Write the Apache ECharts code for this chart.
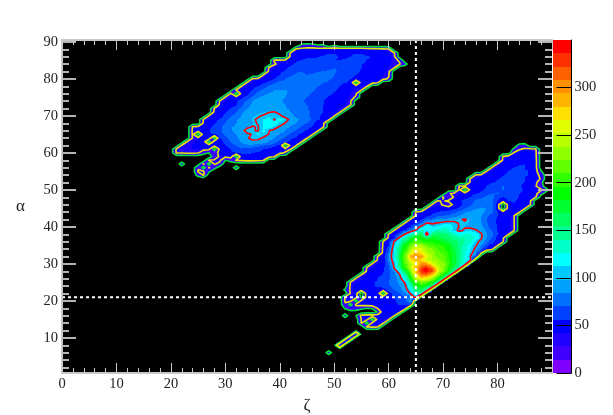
<!DOCTYPE html>
<html>
<head>
<meta charset="utf-8">
<style>html,body{margin:0;padding:0;background:#fff}#c{width:613px;height:415px}</style>
<script src="https://cdn.jsdelivr.net/npm/echarts@6/dist/echarts.min.js"></script>
</head>
<body>
<div id="c"></div>
<script>
// Each row: [alpha, first zeta, counts per 1-degree cell ...]
const upperRows = [
[89,44,20,24,20,14,16,0,14],
[88,43,40,42,44,46,44,46,48,49,49,48,48,49,48,46,44,42,40,38],
[87,42,40,46,49,51,50,51,52,54,55,52,51,54,55,54,52,51,50,48,42,38],
[86,42,42,50,52,55,54,56,58,64,60,55,54,56,60,62,58,54,52,50,46,40],
[85,39,38,38,40,48,54,56,58,60,58,62,60,56,55,58,64,66,62,56,54,52,49,44,40,34],
[84,39,34,40,48,52,58,62,64,62,60,58,56,60,66,68,64,58,56,55,52,50,48,44,40,38,20],
[83,38,38,44,49,54,60,66,68,66,62,60,64,66,70,68,62,60,58,56,54,51,49,46,42,38],
[82,38,40,46,52,58,64,68,70,68,66,68,70,74,72,68,64,60,58,55,52,50,48,44,40],
[81,37,38,44,51,56,64,68,72,72,70,72,76,78,74,70,66,62,58,56,54,52,50,48,42,38],
[80,35,38,40,46,51,56,64,70,74,76,74,76,78,80,76,72,68,64,60,56,55,52,51,49,46,40,34],
[79,34,38,44,49,54,60,68,74,78,78,78,80,82,78,74,70,68,64,60,56,54,0,50,48,42,38],
[78,33,38,44,50,55,62,70,76,80,80,82,82,82,78,74,70,68,64,60,56,54,51,48,42,38],
[77,32,38,44,50,56,66,74,80,84,84,84,84,82,78,74,72,68,66,62,58,54,50,46,40,38],
[76,31,40,0,46,54,64,74,82,85,87,85,85,82,78,76,72,68,66,62,58,54,50,48,42,38],
[75,30,38,42,46,51,60,72,82,87,89,87,87,84,80,78,74,70,68,64,58,55,52,49,46,40,34],
[74,29,38,42,49,54,62,74,84,91,91,89,89,85,82,80,76,72,68,66,60,56,54,50,48,42,38],
[73,29,42,48,51,56,66,78,87,93,93,91,89,87,84,80,78,74,70,66,62,56,54,51,48,42,38],
[72,28,38,46,51,56,64,74,84,93,95,95,93,91,87,84,82,78,74,70,66,60,55,51,48,42,38],
[71,28,42,49,55,62,70,80,89,95,97,97,99,101,95,89,84,80,76,72,68,62,55,50,44,38],
[70,27,38,46,52,60,68,76,85,93,97,99,101,108,112,103,93,87,82,76,72,66,58,52,46,38],
[69,26,38,44,51,58,66,74,82,89,95,99,101,114,120,98,124,108,95,87,82,76,68,58,50,40],
[68,26,40,48,54,62,70,78,84,89,93,97,101,112,122,126,110,99,91,84,78,70,60,51,40],
[67,24,38,42,49,54,60,68,76,82,87,93,97,101,99,112,118,108,97,89,82,76,68,60,54,48,38],
[66,24,40,46,51,56,62,68,76,82,87,95,106,101,99,116,101,95,89,82,76,68,60,54,48,38],
[65,24,40,0,48,54,58,66,74,80,85,93,97,101,114,110,99,91,84,76,68,60,54,48,38],
[64,24,38,42,49,52,0,55,66,74,82,89,97,108,106,97,91,84,76,68,60,54,48,38],
[63,23,38,40,44,48,0,49,52,60,70,78,85,91,93,93,89,82,74,66,58,52,46,38],
[62,22,38,40,42,46,48,46,44,49,55,64,72,78,80,80,76,72,66,60,54,0,44,38],
[61,21,38,40,42,42,42,42,40,0,42,50,56,64,68,68,66,62,56,54,50,48,42,38],
[60,21,38,38,40,40,38,20,12,28,42,49,54,56,58,58,56,54,51,49,46,42,34],
[59,28,24,40,40,46,0,51,52,52,51,49,44,38],
[58,27,38,38,40,12,20,38,40,44,44,42,38],
[57,26,38,0,38,30],
[57,22,24],
[56,25,34,0,38,20],
[56,32,24],
[55,25,38,38,16],
[54,25,20,38]
];
const lowerRows = [
[62,84,20,24],
[61,83,16,34,40,40,38],
[60,83,38,46,48,48,40],
[59,81,38,44,48,50,51,50,40],
[58,81,40,46,50,52,54,51,42],
[57,80,38,46,50,54,55,56,52,42],
[56,79,38,44,50,54,56,58,56,52,42],
[55,78,38,42,49,52,56,60,60,58,54,44,14],
[54,76,38,40,44,49,52,55,60,62,60,58,54,46,28],
[53,75,38,42,46,50,54,55,58,64,64,60,56,52,44,34],
[52,75,40,46,49,52,55,58,64,68,66,62,56,51,42,16],
[51,73,38,40,46,49,52,56,60,66,70,68,64,58,52,44,38,20],
[50,73,40,0,42,49,54,58,64,68,70,68,64,60,54,49,44,40,20],
[49,71,34,40,40,46,51,55,60,66,70,72,66,64,62,56,52,48,42,20],
[48,70,38,20,38,48,52,56,62,68,72,74,62,56,62,60,55,51,46,38],
[47,69,38,34,40,49,54,60,66,72,76,78,72,56,46,56,58,52,48,38],
[46,68,38,42,34,20,44,52,60,68,74,78,80,76,46,0,46,55,52,48,38],
[45,67,38,44,49,48,48,51,58,68,76,82,85,84,76,46,0,46,54,48,38],
[44,65,38,42,48,52,56,58,60,66,74,82,87,89,87,82,72,56,46,52,48,38],
[43,65,40,48,54,60,68,70,74,80,85,91,93,91,84,74,64,56,52,48,38],
[42,64,38,46,54,66,78,84,87,91,95,99,101,97,91,82,70,60,54,50,46,38],
[41,63,38,46,54,70,102,97,101,106,110,104,99,99,97,95,84,72,62,54,49,44,38],
[40,62,38,48,56,82,108,125,112,115,125,125,112,98,98,96,94,87,76,64,55,50,44,38],
[39,61,38,48,60,87,104,135,120,125,135,140,130,106,96,104,108,102,95,82,68,56,50,44,38],
[38,60,38,49,64,102,125,150,165,80,155,160,155,150,135,120,125,125,118,102,87,72,58,49,38],
[37,60,42,52,108,135,170,190,185,170,180,175,165,160,150,140,140,135,125,102,85,68,52,40],
[36,59,38,49,104,130,165,195,215,205,195,195,190,180,170,160,150,140,130,108,93,76,60,50,38],
[35,59,40,54,110,140,185,215,240,235,215,205,200,195,185,165,150,135,120,102,85,66,51,38],
[34,59,42,66,118,155,195,235,262,255,235,225,210,200,190,170,150,130,112,95,72,52,40],
[33,59,42,76,120,160,210,255,285,270,245,230,215,210,195,175,150,130,108,87,38],
[32,58,38,44,82,120,165,225,295,305,300,265,235,220,215,200,175,150,125,100,66],
[31,58,40,46,78,115,160,215,265,285,275,250,235,230,220,200,175,150,125,110],
[30,57,38,42,49,72,105,155,210,245,265,300,300,260,240,230,205,175,145,125],
[29,56,38,42,48,54,66,102,150,205,245,285,325,340,305,255,230,195,165,135],
[28,56,40,46,50,55,64,85,115,170,230,280,335,345,325,265,225,190,150],
[27,55,38,42,49,54,58,66,80,97,140,205,265,310,310,275,235,190,150],
[26,54,38,42,48,52,56,62,68,78,91,120,180,240,265,255,230,190,150],
[25,53,38,42,46,50,54,58,64,70,78,89,102,160,205,225,215,195,150],
[24,53,40,44,48,51,55,58,64,68,74,82,95,130,180,195,180,145],
[23,52,16,40,44,46,49,52,46,46,62,70,78,91,115,155,165,135],
[22,53,38,42,0,48,49,48,0,49,60,70,82,101,125,130],
[21,52,38,40,46,4,44,48,49,48,51,56,62,70,82,110],
[20,52,38,42,0,42,46,48,50,51,52,55,58,66,95],
[19,52,34,0,40,44,46,48,50,52,54,55,56,60,50],
[18,52,14,34,28,16,12,14,38,50,52,54,54,48],
[17,58,14,49,52,51,42],
[16,52,24],
[16,54,12,42,46,46,46,51,49,38],
[15,55,38,42,0,44,46,38],
[14,55,38,0,42,44,38],
[13,56,38,40,38],
[11,54,78],
[10,53,78],
[9,52,78],
[8,51,78],
[6,49,24]
];
const xMajorTicks = [0,10,20,30,40,50,60,70,80,90];
const xLabelTicks = [0,10,20,30,40,50,60,70,80];
const xMinorTicks = [2,4,6,8,12,14,16,18,22,24,26,28,32,34,36,38,42,44,46,48,52,54,56,58,62,64,66,68,72,74,76,78,82,84,86,88];
const yMajorTicks = [10,20,30,40,50,60,70,80,90];
const yMinorTicks = [2,4,6,8,12,14,16,18,22,24,26,28,32,34,36,38,42,44,46,48,52,54,56,58,62,64,66,68,72,74,76,78,82,84,86,88];
const barTicks = [0,50,100,150,200,250,300];
const bandStep = 14;
const bandColors = ['#8000ff','#4000ff','#2000ff','#0000ff','#0040ff','#0070ff','#00a0ff','#00c8ff','#00ffff','#00ffc8','#00ff90','#00ff60','#00ff30','#00ff00','#30ff00','#60ff00','#90ff00','#b8ff00','#e0ff00','#ffe000','#ffb400','#ff9000','#ff6000','#ff3000','#ff0000'];
const contourLevels = [12,36,100];
const contourColors = ['#00e040','#e8e800','#ff0000'];
const fillFloor = 14;
const dashZeta = 65;
const dashAlpha = 21;

const serif = '"Liberation Serif","Times New Roman",serif';
const table = new Map();
const key = (x,y)=>x*1000+y;
upperRows.concat(lowerRows).forEach(r=>{for(let k=2;k<r.length;k++){table.set(key(r[1]+k-2,r[0]),r[k]);}});
const val = (x,y)=>table.get(key(x,y))||0;
const sample = (x,y)=>{
  const i=Math.floor(x),j=Math.floor(y),fx=x-i,fy=y-j;
  return (1-fx)*(1-fy)*val(i,j)+fx*(1-fy)*val(i+1,j)+(1-fx)*fy*val(i,j+1)+fx*fy*val(i+1,j+1);
};
const cells=[];
for(let x=0;x<=92;x++){for(let y=0;y<=92;y++){
  let on=false;
  for(let a=-1;a<=1;a++)for(let b=-1;b<=1;b++){if(val(x+a,y+b)>0)on=true;}
  if(on)cells.push([x,y,val(x,y)]);
}}
const NX=5,NY=4;
function renderCell(params,api){
  const x=api.value(0),y=api.value(1),kids=[];
  for(let sy=0;sy<NY;sy++){
    const yb=y-.5+sy/NY,yt=yb+1/NY;
    let runStart=-1,runColor=null;
    for(let sx=0;sx<=NX;sx++){
      let c=null;
      if(sx<NX){
        const v=sample(x-.5+(sx+.5)/NX,yb+.5/NY);
        if(v>=fillFloor)c=bandColors[Math.min(bandColors.length-1,Math.floor(v/bandStep))];
      }
      if(c!==runColor){
        if(runColor){
          const p0=api.coord([x-.5+runStart/NX,yt]),p1=api.coord([x-.5+sx/NX,yb]);
          const x0=Math.round(p0[0]),x1=Math.round(p1[0]),y0=Math.round(p0[1]),y1=Math.round(p1[1]);
          if(x1>x0&&y1>y0)kids.push({type:'rect',shape:{x:x0,y:y0,width:x1-x0,height:y1-y0},style:{fill:runColor}});
        }
        runStart=sx;runColor=c;
      }
    }
  }
  return {type:'group',children:kids};
}
function renderContour(params,api){
  const L=api.value(2),idx=contourLevels.indexOf(L);
  let d='';
  const seg=(p,q)=>{const a=api.coord(p),b=api.coord(q);d+='M'+a[0].toFixed(2)+' '+a[1].toFixed(2)+'L'+b[0].toFixed(2)+' '+b[1].toFixed(2);};
  for(let i=15;i<92;i++){for(let j=1;j<92;j++){
    const a=val(i,j),b=val(i+1,j),c=val(i+1,j+1),e=val(i,j+1);
    const m=(a>=L?1:0)+(b>=L?2:0)+(c>=L?4:0)+(e>=L?8:0);
    if(m===0||m===15)continue;
    const t=(u,v)=>(L-u)/(v-u);
    const E0=()=>[i+t(a,b),j],E1=()=>[i+1,j+t(b,c)],E2=()=>[i+t(e,c),j+1],E3=()=>[i,j+t(a,e)];
    const hi=(a+b+c+e)/4>=L;
    switch(m){
      case 1:case 14:seg(E3(),E0());break;
      case 2:case 13:seg(E0(),E1());break;
      case 3:case 12:seg(E3(),E1());break;
      case 4:case 11:seg(E1(),E2());break;
      case 6:case 9:seg(E0(),E2());break;
      case 7:case 8:seg(E3(),E2());break;
      case 5:if(hi){seg(E2(),E3());seg(E0(),E1());}else{seg(E3(),E0());seg(E1(),E2());}break;
      case 10:if(hi){seg(E3(),E0());seg(E1(),E2());}else{seg(E0(),E1());seg(E2(),E3());}break;
    }
  }}
  return {type:'path',shape:{pathData:d},style:{fill:'none',stroke:contourColors[idx],lineWidth:1.6,lineCap:'round'}};
}
function renderBand(params,api){
  const p0=api.coord([0,api.value(2)]),p1=api.coord([1,api.value(1)]);
  const y0=Math.round(p0[1]),y1=Math.round(p1[1]);
  return {type:'rect',shape:{x:p0[0],y:y0,width:p1[0]-p0[0],height:y1-y0},style:{fill:bandColors[api.value(3)]}};
}
const tickGrey='#c8c8c8';
const yTick={color:'#b4b4b4',width:2};
const noLine={show:false,onZero:false};
const labelStyle={fontFamily:serif,fontSize:14.5,color:'#222'};
const minorY=(pos)=>({type:'value',gridIndex:0,position:pos,min:.5,max:90.5,z:6,splitLine:{show:false},axisLine:noLine,axisLabel:{show:false},
  axisTick:{show:true,inside:true,length:7,customValues:yMinorTicks,lineStyle:yTick}});
const chart=echarts.init(document.getElementById('c'),null,{renderer:'canvas'});
chart.setOption({
  animation:false,
  backgroundColor:'#ffffff',
  grid:[
    {left:62,top:40,width:490,height:333,show:true,backgroundColor:'#000000',borderWidth:0,outerBoundsMode:'none',containLabel:false},
    {left:553,top:40,width:18.5,height:333,show:false,outerBoundsMode:'none',containLabel:false}
  ],
  xAxis:[
    {type:'value',gridIndex:0,position:'bottom',min:0,max:90,z:6,splitLine:{show:false},
      name:'ζ',nameLocation:'middle',nameGap:17,nameTextStyle:{fontFamily:serif,fontSize:17,color:'#222'},
      axisLine:{show:true,onZero:false,lineStyle:{color:tickGrey,width:2}},
      axisLabel:{...labelStyle,margin:4,customValues:xLabelTicks},
      axisTick:{show:true,inside:true,length:10,customValues:xMajorTicks,lineStyle:{color:tickGrey,width:1}}},
    {type:'value',gridIndex:0,position:'bottom',min:0,max:90,z:6,splitLine:{show:false},
      axisLine:noLine,axisLabel:{show:false},
      axisTick:{show:true,inside:true,length:5,customValues:xMinorTicks,lineStyle:{color:tickGrey,width:1}}},
    {type:'value',gridIndex:0,position:'top',min:0,max:90,z:6,splitLine:{show:false},
      axisLine:{show:true,onZero:false,lineStyle:{color:tickGrey,width:2}},axisLabel:{show:false},
      axisTick:{show:true,inside:true,length:10,customValues:xMajorTicks,lineStyle:{color:tickGrey,width:1}}},
    {type:'value',gridIndex:0,position:'top',min:0,max:90,z:6,splitLine:{show:false},
      axisLine:noLine,axisLabel:{show:false},
      axisTick:{show:true,inside:true,length:5,customValues:xMinorTicks,lineStyle:{color:tickGrey,width:1}}},
    {type:'value',gridIndex:1,min:0,max:1,show:false}
  ],
  yAxis:[
    {type:'value',gridIndex:0,position:'left',min:.5,max:90.5,z:6,splitLine:{show:false},
      name:'α',nameLocation:'middle',nameGap:37,nameRotate:0,nameTextStyle:{fontFamily:serif,fontSize:17,color:'#222'},
      axisLine:{show:true,onZero:false,lineStyle:{color:tickGrey,width:2}},
      axisLabel:{...labelStyle,margin:4,customValues:yMajorTicks},
      axisTick:{show:true,inside:true,length:14,customValues:yMajorTicks,lineStyle:yTick}},
    minorY('left'),
    {type:'value',gridIndex:0,position:'right',min:.5,max:90.5,z:6,splitLine:{show:false},
      axisLine:noLine,axisLabel:{show:false},
      axisTick:{show:true,inside:true,length:14,customValues:yMajorTicks,lineStyle:yTick}},
    minorY('right'),
    {type:'value',gridIndex:1,position:'right',min:0,max:350,z:6,splitLine:{show:false},
      axisLine:{show:true,onZero:false,lineStyle:{color:'#000',width:1}},
      axisLabel:{...labelStyle,margin:3,customValues:barTicks},
      axisTick:{show:true,inside:true,length:15,customValues:barTicks,lineStyle:{color:'#000',width:1}}}
  ],
  series:[
    {type:'custom',name:'counts',coordinateSystem:'cartesian2d',xAxisIndex:0,yAxisIndex:0,clip:true,progressive:0,z:2,
      data:cells,encode:{x:0,y:1},renderItem:renderCell,silent:true},
    {type:'custom',name:'contours',coordinateSystem:'cartesian2d',xAxisIndex:0,yAxisIndex:0,clip:true,progressive:0,z:3,
      data:contourLevels.map(l=>[45,45,l]),encode:{x:0,y:1},renderItem:renderContour,silent:true},
    {type:'line',name:'zeta cut',xAxisIndex:0,yAxisIndex:0,symbol:'none',z:4,silent:true,
      data:[[dashZeta,.5],[dashZeta,90.5]],lineStyle:{color:'#fff',width:2,type:[3,3]}},
    {type:'line',name:'alpha cut',xAxisIndex:0,yAxisIndex:0,symbol:'none',z:4,silent:true,
      data:[[0,dashAlpha],[90,dashAlpha]],lineStyle:{color:'#fff',width:2,type:[3,3]}},
    {type:'custom',name:'colour bar',coordinateSystem:'cartesian2d',xAxisIndex:4,yAxisIndex:4,progressive:0,z:2,silent:true,
      data:bandColors.map((c,i)=>[0,i*bandStep,(i+1)*bandStep,i]),encode:{x:0,y:[1,2]},renderItem:renderBand}
  ]
});
</script>
</body>
</html>
